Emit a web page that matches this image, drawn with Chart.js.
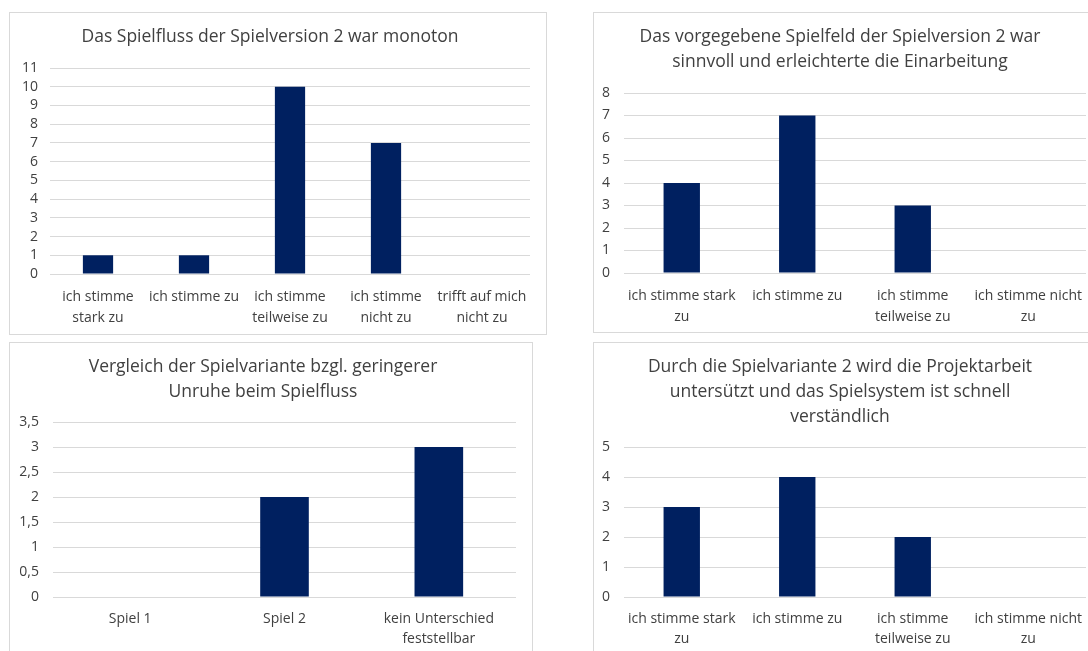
<!DOCTYPE html>
<html>
<head>
<meta charset="utf-8">
<script src="https://cdn.jsdelivr.net/npm/chart.js@4.4.1/dist/chart.umd.min.js"></script>
<style>
  html, body { margin: 0; padding: 0; background: #fff; overflow: hidden; }
  body { width: 1088px; height: 651px; position: relative; }
  .panel { position: absolute; border: 1px solid #d9d9d9; box-sizing: border-box; background: #fff; }
  .panel canvas { position: absolute; left: 0; top: 0; }
</style>
</head>
<body>
<div class="panel" style="left:9px;top:12px;width:538px;height:323px;"><canvas id="c1" width="536" height="321"></canvas></div>
<div class="panel" style="left:593px;top:12px;width:507px;height:321px;"><canvas id="c2" width="505" height="319"></canvas></div>
<div class="panel" style="left:9px;top:342px;width:524px;height:330px;"><canvas id="c3" width="522" height="328"></canvas></div>
<div class="panel" style="left:593px;top:342px;width:507px;height:330px;"><canvas id="c4" width="505" height="328"></canvas></div>
<script>
  // chart 1
  const title1 = 'Das Spielfluss der Spielversion 2 war monoton';
  const cats1 = [['ich stimme', 'stark zu'], 'ich stimme zu', ['ich stimme', 'teilweise zu'], ['ich stimme', 'nicht zu'], ['trifft auf mich', 'nicht zu']];
  const vals1 = [1, 1, 10, 7, 0];

  // chart 2
  const title2 = ['Das vorgegebene Spielfeld der Spielversion 2 war', 'sinnvoll und erleichterte die Einarbeitung'];
  const cats2 = [['ich stimme stark', 'zu'], 'ich stimme zu', ['ich stimme', 'teilweise zu'], ['ich stimme nicht', 'zu']];
  const vals2 = [4, 7, 3, 0];

  // chart 3
  const title3 = ['Vergleich der Spielvariante bzgl. geringerer', 'Unruhe beim Spielfluss'];
  const cats3 = ['Spiel 1', 'Spiel 2', ['kein Unterschied', 'feststellbar']];
  const vals3 = [0, 2, 3];

  // chart 4
  const title4 = ['Durch die Spielvariante 2 wird die Projektarbeit', 'untersützt und das Spielsystem ist schnell', 'verständlich'];
  const cats4 = [['ich stimme stark', 'zu'], 'ich stimme zu', ['ich stimme', 'teilweise zu'], ['ich stimme nicht', 'zu']];
  const vals4 = [3, 4, 2, 0];

  const BAR = '#002060';
  const GRID = '#d9d9d9';
  const TEXT = '#404040';

  Chart.defaults.font.family = "'Open Sans', sans-serif";
  Chart.defaults.color = TEXT;

  function fmtComma(value) {
    return String(value).replace('.', ',');
  }

  function makeChart(id, opts) {
    return new Chart(document.getElementById(id), {
      type: 'bar',
      data: {
        labels: opts.labels,
        datasets: [{ data: opts.values, backgroundColor: BAR, barPercentage: 0.315, categoryPercentage: 1 }],
      },
      options: {
        responsive: false,
        animation: false,
        layout: { padding: { left: 0, right: opts.padRight, top: 0, bottom: 0 } },
        plugins: {
          legend: { display: false },
          tooltip: { enabled: false },
          title: {
            display: true,
            text: opts.title,
            color: TEXT,
            font: { size: 17.5, weight: 'normal', lineHeight: '25px' },
            padding: { top: 11.5, bottom: opts.titleBottom },
          },
        },
        scales: {
          x: {
            grid: { display: false },
            border: { display: false },
            ticks: { color: TEXT, font: { size: 14, lineHeight: '20.5px' }, padding: opts.xPad, maxRotation: 0, autoSkip: false },
            afterFit: (axis) => { axis.height = opts.xHeight; },
          },
          y: {
            min: 0,
            max: opts.max,
            grid: { color: GRID, drawTicks: false },
            border: { display: false },
            ticks: { color: TEXT, font: { size: 14 }, stepSize: opts.step, padding: opts.yPad, autoSkip: false, callback: fmtComma },
            afterFit: (axis) => { axis.width = opts.yWidth; },
          },
        },
      },
    });
  }

  makeChart('c1', { labels: cats1, values: vals1, title: title1, max: 11, step: 1, padRight: 16, titleBottom: 18.5, xPad: 5, xHeight: 60, yWidth: 40, yPad: 12 });
  makeChart('c2', { labels: cats2, values: vals2, title: title2, max: 8, step: 1, padRight: 13, titleBottom: 18.5, xPad: 5, xHeight: 59, yWidth: 30, yPad: 14 });
  makeChart('c3', { labels: cats3, values: vals3, title: title3, max: 3.5, step: 0.5, padRight: 16, titleBottom: 17.5, xPad: 3.5, xHeight: 74, yWidth: 43, yPad: 14 });
  makeChart('c4', { labels: cats4, values: vals4, title: title4, max: 5, step: 1, padRight: 13, titleBottom: 17.5, xPad: 3.5, xHeight: 74, yWidth: 30, yPad: 14 });
</script>
</body>
</html>
